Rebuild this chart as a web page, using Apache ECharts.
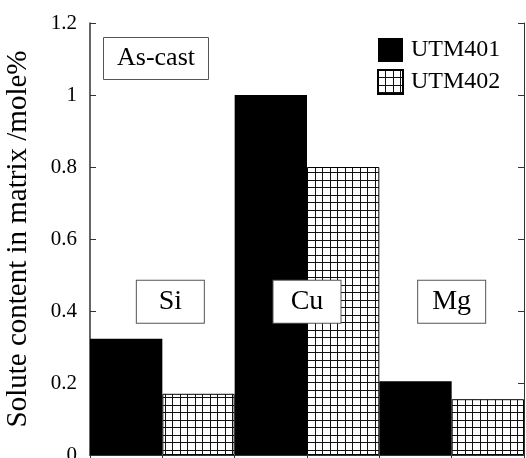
<!DOCTYPE html>
<html>
<head>
<meta charset="utf-8">
<script src="https://cdn.jsdelivr.net/npm/echarts@6/dist/echarts.min.js"></script>
<style>
html,body{margin:0;padding:0;background:#fff;}
#c{width:526px;height:458px;}
</style>
</head>
<body>
<div id="c"></div>
<script>
const categories = ['Si', 'Cu', 'Mg'];
const seriesNames = ['UTM401', 'UTM402'];
const utm401 = [0.323, 1.0, 0.205];
const utm402 = [0.17, 0.80, 0.155];
const yMin = 0, yMax = 1.2, yStep = 0.2;
const yAxisName = 'Solute content in matrix /mole%';
const conditionText = 'As-cast';
const elementLabelLevel = 0.426;

const FONT = "'Liberation Serif', 'Times New Roman', serif";
const AXIS_COLOR = '#333';

function makeGridPattern() {
  const c = document.createElement('canvas');
  c.width = 15; c.height = 15;
  const g = c.getContext('2d');
  g.fillStyle = '#fff';
  g.fillRect(0, 0, 15, 15);
  g.fillStyle = '#111';
  g.fillRect(0, 0, 1, 15);
  g.fillRect(7, 0, 1, 15);
  g.fillRect(0, 0, 15, 1);
  g.fillRect(0, 7, 15, 1);
  return c;
}
const gridPattern = { image: makeGridPattern(), repeat: 'repeat' };

const chart = echarts.init(document.getElementById('c'), null, { renderer: 'canvas' });

const labelOffsets = [[8, 0], [0, 0], [0, 0]];

const option = {
  animation: false,
  backgroundColor: '#fff',
  textStyle: { fontFamily: FONT },
  title: {
    text: conditionText,
    left: 103,
    top: 37,
    padding: [8, 14],
    borderColor: '#555',
    borderWidth: 1,
    backgroundColor: '#fff',
    textStyle: { fontFamily: FONT, fontSize: 26, fontWeight: 'normal', color: '#000', lineHeight: 27 }
  },
  legend: {
    data: seriesNames,
    orient: 'vertical',
    left: 377,
    top: 38,
    padding: 0,
    itemWidth: 25,
    itemHeight: 24,
    itemGap: 7,
    icon: 'rect',
    textStyle: { fontFamily: FONT, fontSize: 24, color: '#000', padding: [0, 0, 0, 3] }
  },
  grid: { left: 90, right: 2, top: 23, bottom: 3, containLabel: false, outerBoundsMode: 'none' },
  xAxis: [
    {
      type: 'category',
      data: categories,
      position: 'bottom',
      axisLine: { show: true, lineStyle: { color: AXIS_COLOR, width: 1 } },
      axisTick: { show: false },
      axisLabel: { show: false },
      splitLine: { show: false }
    },
    {
      type: 'value',
      position: 'top',
      min: 0,
      max: categories.length * seriesNames.length,
      interval: 1,
      axisLine: { show: true, lineStyle: { color: AXIS_COLOR, width: 1 } },
      axisTick: { show: true, inside: true, length: 6, lineStyle: { color: AXIS_COLOR } },
      axisLabel: { show: false },
      splitLine: { show: false }
    }
  ],
  yAxis: [
    {
      type: 'value',
      min: yMin,
      max: yMax,
      interval: yStep,
      position: 'left',
      name: yAxisName,
      nameLocation: 'middle',
      nameGap: 57,
      nameRotate: 90,
      nameTextStyle: { fontFamily: FONT, fontSize: 29, color: '#000' },
      axisLine: { show: true, lineStyle: { color: AXIS_COLOR, width: 1.5 } },
      axisTick: { show: true, inside: true, length: 6, lineStyle: { color: AXIS_COLOR } },
      axisLabel: {
        margin: 13,
        fontFamily: FONT,
        fontSize: 21,
        color: '#000',
        formatter: v => String(parseFloat(v.toFixed(1)))
      },
      splitLine: { show: false }
    },
    {
      type: 'value',
      min: yMin,
      max: yMax,
      interval: yStep,
      position: 'right',
      axisLine: { show: true, lineStyle: { color: AXIS_COLOR, width: 1 } },
      axisTick: { show: true, inside: true, length: 6, lineStyle: { color: AXIS_COLOR } },
      axisLabel: { show: false },
      splitLine: { show: false }
    }
  ],
  series: [
    {
      name: seriesNames[0],
      type: 'bar',
      xAxisIndex: 0,
      yAxisIndex: 0,
      data: utm401,
      barGap: '0%',
      barCategoryGap: '0%',
      itemStyle: { color: '#000', borderColor: '#000', borderWidth: 0 }
    },
    {
      name: seriesNames[1],
      type: 'bar',
      xAxisIndex: 0,
      yAxisIndex: 0,
      data: utm402,
      barGap: '0%',
      barCategoryGap: '0%',
      itemStyle: { color: gridPattern, borderColor: '#000', borderWidth: 1 }
    },
    {
      name: 'elements',
      type: 'scatter',
      xAxisIndex: 0,
      yAxisIndex: 0,
      symbolSize: 0,
      z: 10,
      silent: true,
      itemStyle: { opacity: 1 },
      data: categories.map((c, i) => ({
        value: [c, elementLabelLevel],
        label: { offset: labelOffsets[i] }
      })),
      label: {
        show: true,
        position: 'inside',
        opacity: 1,
        formatter: p => p.value[0],
        fontFamily: FONT,
        fontSize: 28,
        color: '#000',
        backgroundColor: '#fff',
        borderColor: '#555',
        borderWidth: 1,
        width: 67,
        height: 42,
        lineHeight: 42,
        align: 'center',
        verticalAlign: 'middle'
      }
    }
  ]
};
chart.setOption(option);
</script>
</body>
</html>
